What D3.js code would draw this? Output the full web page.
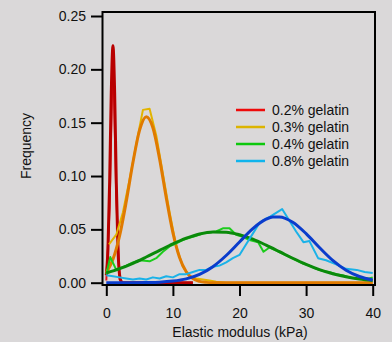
<!DOCTYPE html>
<html>
<head>
<meta charset="utf-8">
<script src="https://cdn.jsdelivr.net/npm/d3@7"></script>
<style>
  html, body { margin: 0; padding: 0; background: #dad8d9; }
  svg { display: block; font-family: "Liberation Sans", Arial, sans-serif; }
  .axis text { font-size: 14px; fill: #111; }
  .axis line { stroke: #000; stroke-width: 2; }
</style>
</head>
<body>
<svg id="chart" width="392" height="342"></svg>
<script>
// tick labels
const xTicks = [0, 10, 20, 30, 40]
const yTicks = [0, 0.05, 0.10, 0.15, 0.20, 0.25]
const seriesNames = ['0.2% gelatin', '0.3% gelatin', '0.4% gelatin', '0.8% gelatin']

// measured histograms, [modulus kPa, frequency]
const raw02 = [[0, 0.002], [0.5, 0.07], [1.0, 0.222], [1.5, 0.08], [2.0, 0.003], [2.5, 0], [13, 0]]
const raw03 = [[0.4, 0.036], [1.5, 0.045], [2.5, 0.066], [3.5, 0.097], [4.5, 0.13], [5.5, 0.162],
  [6.5, 0.163], [7.5, 0.138], [8.5, 0.102], [9.5, 0.066], [10.5, 0.034], [11.5, 0.015],
  [12.5, 0.006], [13.5, 0.004], [14.5, 0.003], [15.5, 0.002], [16.5, 0.001], [18, 0], [40, 0]]
const raw04 = [[0, 0.008], [0.6, 0.024], [1.5, 0.012], [3, 0.016], [4, 0.019], [5, 0.021],
  [6.5, 0.020], [7.5, 0.023], [8.5, 0.029], [9.5, 0.034], [10.5, 0.037], [11.5, 0.040],
  [12.5, 0.042], [13.5, 0.044], [14.5, 0.046], [15.5, 0.047], [16.5, 0.048], [17.5, 0.051],
  [18.5, 0.051], [19.5, 0.045], [20.5, 0.043], [21.5, 0.040], [22.8, 0.038], [23.6, 0.029],
  [24.5, 0.033], [25.5, 0.030], [26.5, 0.027], [27.5, 0.024], [28.5, 0.021], [29.5, 0.018],
  [30.5, 0.016], [31.5, 0.013], [32.5, 0.011], [33.5, 0.010], [34.5, 0.008], [35.5, 0.007],
  [36.5, 0.005], [37.5, 0.004], [38.5, 0.004], [39.5, 0.004], [40, 0.005]]
const raw08 = [[0, 0.007], [1, 0.006], [2, 0.005], [3, 0.004], [4, 0.003], [5, 0.004], [6, 0.003],
  [7, 0.005], [8, 0.004], [9, 0.006], [10, 0.005], [11, 0.008], [12, 0.008], [13, 0.010],
  [14, 0.012], [15, 0.012], [16, 0.015], [17, 0.016], [18, 0.019], [19, 0.023], [20, 0.026],
  [21, 0.036], [22, 0.046], [23, 0.056], [24, 0.060], [24.6, 0.062], [26.4, 0.069], [27.5, 0.058],
  [28.5, 0.048], [29.6, 0.038], [30.5, 0.039], [31.8, 0.023], [33.0, 0.021], [34.6, 0.017],
  [36.0, 0.013], [37.6, 0.012], [38.8, 0.010], [40, 0.009]]

// fitted curves
const fit02 = [[0, 0.007], [0.25, 0.032], [0.5, 0.094], [0.75, 0.179], [1, 0.222], [1.25, 0.179],
  [1.5, 0.094], [1.75, 0.032], [2, 0.007], [2.25, 0.001], [2.5, 0], [13, 0]]
const fit03 = [[0, 0.0093], [1, 0.0219], [2, 0.044], [3, 0.0761], [4, 0.1126], [5, 0.143],
  [6, 0.1556], [7, 0.1452], [8, 0.1161], [9, 0.0797], [10, 0.0469], [11, 0.0236], [12, 0.0102],
  [13, 0.0038], [14, 0.0012], [15, 0.0003], [16, 0], [40, 0]]
const fit04 = [[0, 0.0091], [2, 0.0132], [4, 0.0182], [6, 0.0241], [8, 0.0303], [10, 0.0364],
  [12, 0.0417], [14, 0.0457], [16, 0.0476], [18, 0.0474], [20, 0.045], [22, 0.0408], [24, 0.0352],
  [26, 0.0291], [28, 0.0229], [30, 0.0172], [32, 0.0123], [34, 0.0084], [36, 0.0055],
  [38, 0.0034], [40, 0.002]]
const fit08 = [[0, 0], [4, 0.00005], [6, 0.0002], [8, 0.0005], [10, 0.0015], [12, 0.0036],
  [14, 0.0078], [16, 0.015], [18, 0.0255], [20, 0.0382], [22, 0.0507], [24, 0.0595], [25, 0.0616],
  [26, 0.0617], [28, 0.0567], [30, 0.046], [32, 0.033], [34, 0.0209], [36, 0.0117],
  [38, 0.0058], [40, 0.0025]]

const rawColors = ['#e8141c', '#e2b400', '#1ccc1c', '#1ab2e8']
const fitColors = ['#b80000', '#e07a00', '#0a8a0a', '#0a3ccc']
const legendColors = ['#ee0a0a', '#dcb400', '#0dc80d', '#10b4ec']

const svg = d3.select('#chart')

const x = d3.scaleLinear().domain([0, 40]).range([106.3, 372.7])
const y = d3.scaleLinear().domain([0, 0.25]).range([282.7, 16])

const rawLine = d3.line()
  .x(d => x(d[0]))
  .y(d => y(d[1]))

const fitLine = d3.line()
  .x(d => x(d[0]))
  .y(d => y(d[1]))
  .curve(d3.curveMonotoneX)

const raws = [raw02, raw03, raw04, raw08]
const fits = [fit02, fit03, fit04, fit08]

let plot = svg.append('g').attr('class', 'plot')
raws.map((r, i) => {
  plot.append('path')
    .datum(r)
    .attr('d', rawLine)
    .attr('fill', 'none')
    .attr('stroke', rawColors[i])
    .attr('stroke-width', 2)
    .attr('stroke-linejoin', 'round')
  plot.append('path')
    .datum(fits[i])
    .attr('d', fitLine)
    .attr('fill', 'none')
    .attr('stroke', fitColors[i])
    .attr('stroke-width', 3)
    .attr('stroke-linejoin', 'round')
})

// frame
svg.append('rect')
  .attr('x', 102.5).attr('y', 12)
  .attr('width', 272.5).attr('height', 273)
  .attr('fill', 'none')
  .attr('stroke', '#000')
  .attr('stroke-width', 2)

// axes
let yAxis = svg.append('g')
  .attr('class', 'axis')
  .attr('transform', 'translate(102,0)')
  .call(d3.axisLeft(y).tickValues(yTicks).tickFormat(d3.format('.2f'))
    .tickSize(11).tickSizeOuter(0).tickPadding(5))
yAxis.select('.domain').remove()

let xAxis = svg.append('g')
  .attr('class', 'axis')
  .attr('transform', 'translate(0,285)')
  .call(d3.axisBottom(x).tickValues(xTicks).tickFormat(d3.format('d'))
    .tickSize(11).tickSizeOuter(0).tickPadding(12))
xAxis.select('.domain').remove()

// axis titles
svg.append('text')
  .attr('transform', 'translate(31,146) rotate(-90)')
  .attr('text-anchor', 'middle')
  .attr('font-size', 14)
  .attr('fill', '#111')
  .text('Frequency')

svg.append('text')
  .attr('x', 240)
  .attr('y', 337)
  .attr('text-anchor', 'middle')
  .attr('font-size', 14)
  .attr('fill', '#111')
  .text('Elastic modulus (kPa)')

// legend
let legend = svg.append('g').attr('class', 'legend')
const legendY = d3.scalePoint().domain(seriesNames).range([110, 161])
seriesNames.map((name, i) => {
  let row = legend.append('g').attr('transform', `translate(0,${legendY(name)})`)
  row.append('line')
    .attr('x1', 236).attr('x2', 265)
    .attr('stroke', legendColors[i])
    .attr('stroke-width', 2.5)
  row.append('text')
    .attr('x', 272)
    .attr('dy', '0.35em')
    .attr('font-size', 14)
    .attr('fill', '#111')
    .text(name)
})
</script>
</body>
</html>
